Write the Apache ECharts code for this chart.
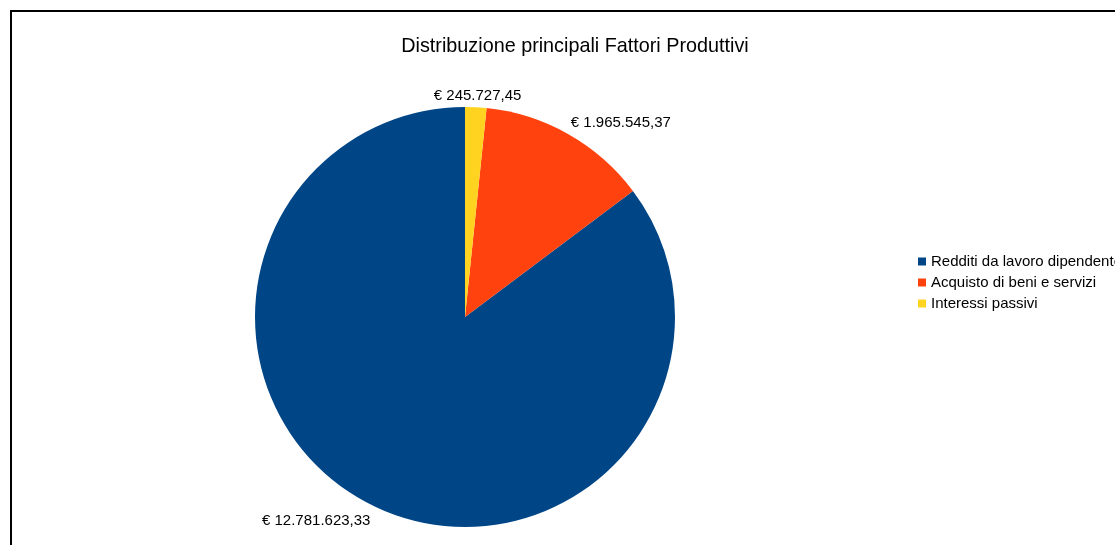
<!DOCTYPE html>
<html>
<head>
<meta charset="utf-8">
<script src="https://cdn.jsdelivr.net/npm/echarts@6/dist/echarts.min.js"></script>
<style>
html,body{margin:0;padding:0;background:#fff;}
#chart{width:1115px;height:545px;}
</style>
</head>
<body>
<div id="chart"></div>
<script>
const categories = ['Redditi da lavoro dipendente', 'Acquisto di beni e servizi', 'Interessi passivi'];
const values = [12781623.33, 1965545.37, 245727.45];
const colors = ['#004586', '#ff420e', '#ffd320'];
const titleText = 'Distribuzione principali Fattori Produttivi';

function fmtEuro(v) {
  const parts = v.toFixed(2).split('.');
  const intPart = parts[0].replace(/\B(?=(\d{3})+(?!\d))/g, '.');
  return '€ ' + intPart + ',' + parts[1];
}

const chart = echarts.init(document.getElementById('chart'), null, {renderer: 'canvas'});
chart.setOption({
  animation: false,
  backgroundColor: '#fff',
  title: {
    text: titleText,
    left: 570,
    textAlign: 'center',
    top: 32,
    textStyle: {fontFamily: 'Liberation Sans', fontSize: 19.8, fontWeight: 'normal', color: '#000'}
  },
  legend: {
    orient: 'vertical',
    left: 913,
    top: 248,
    itemWidth: 8,
    itemHeight: 8,
    itemGap: 4,
    icon: 'rect',
    textStyle: {fontFamily: 'Liberation Sans', fontSize: 15, color: '#000', padding: [0, 0, 0, 0], lineHeight: 17},
    data: categories
  },
  graphic: [{
    type: 'polyline',
    shape: {points: [[11, 560], [11, 11], [1130, 11]]},
    style: {stroke: '#000', lineWidth: 2, fill: null}
  }],
  series: [{
    type: 'pie',
    center: [465, 317],
    radius: 210,
    startAngle: 90,
    clockwise: false,
    color: colors,
    label: {
      show: true,
      position: 'outside',
      formatter: p => fmtEuro(p.value),
      fontFamily: 'Liberation Sans',
      fontSize: 15,
      color: '#000'
    },
    labelLine: {show: false, length: 15, length2: 0},
    labelLayout: function (params) {
      if (params.dataIndex === 2) {
        return {dx: -params.labelRect.width / 2 - 4, dy: 4};
      }
      if (params.dataIndex === 0) {
        return {dx: 11, dy: 3};
      }
      return {dx: -10, dy: 2};
    },
    emphasis: {disabled: true},
    data: categories.map((c, i) => ({name: c, value: values[i]}))
  }]
});
</script>
</body>
</html>
